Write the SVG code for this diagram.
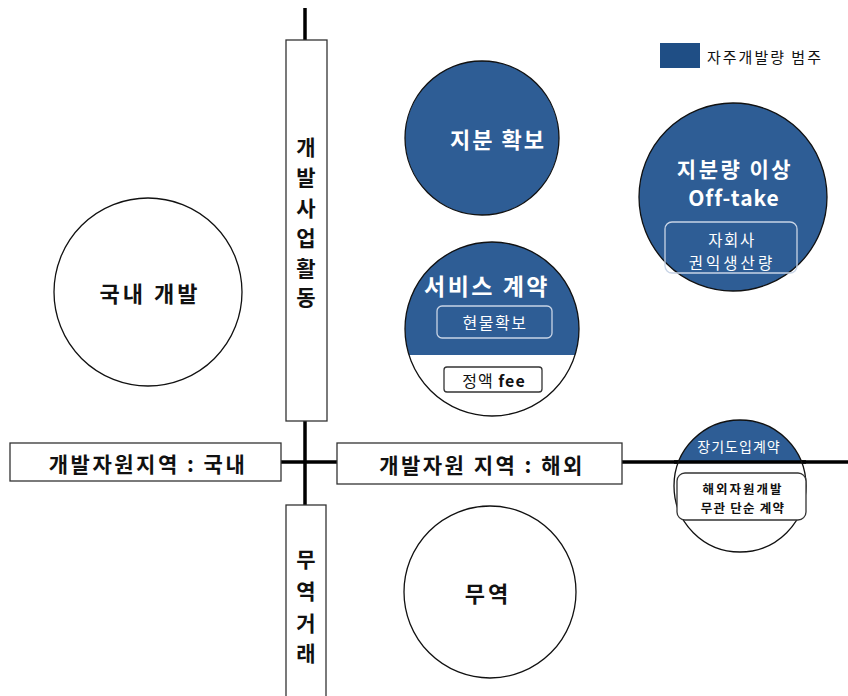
<svg xmlns="http://www.w3.org/2000/svg" width="848" height="696" viewBox="0 0 848 696">
<style>
text{font-family:"Noto Sans CJK KR","Noto Sans",sans-serif;text-anchor:middle;dominant-baseline:central}
.b{font-weight:bold}
.w{fill:#fff}
.k{fill:#111}
.circ{stroke:#111;stroke-width:1.3}
.blue{fill:#2E5D95}
.box{fill:#fff;stroke:#333;stroke-width:1.3}
.axis{stroke:#000;stroke-width:3.5;fill:none}
</style>
<defs>
<clipPath id="c1"><circle cx="492" cy="329" r="87"/></clipPath>
<clipPath id="c2"><circle cx="740" cy="486" r="66"/></clipPath>
</defs>
<rect width="848" height="696" fill="#fff"/>
<g id="connectors">
<line class="axis" x1="305" y1="8" x2="305" y2="696"/>
<line class="axis" x1="281" y1="462" x2="337" y2="462"/>
<line class="axis" x1="622" y1="462" x2="848" y2="462"/>
</g>
<g id="legend">
<rect x="660" y="43" width="40" height="25" fill="#1F4E85"/>
<text x="707" y="56" class="k" font-size="15" letter-spacing="2" style="text-anchor:start">자주개발량 범주</text>
</g>
<g id="axis-dev">
<rect class="box" x="286" y="40" width="41" height="381"/>
<text x="306" y="146" class="b k" font-size="21">개</text>
<text x="306" y="176" class="b k" font-size="21">발</text>
<text x="306" y="207" class="b k" font-size="21">사</text>
<text x="306" y="237" class="b k" font-size="21">업</text>
<text x="306" y="267" class="b k" font-size="21">활</text>
<text x="306" y="296" class="b k" font-size="21">동</text>
</g>
<g id="axis-trade">
<rect class="box" x="286" y="505" width="40" height="200"/>
<text x="306" y="558" class="b k" font-size="21">무</text>
<text x="306" y="590" class="b k" font-size="21">역</text>
<text x="306" y="622" class="b k" font-size="21">거</text>
<text x="306" y="652" class="b k" font-size="21">래</text>
</g>
<g id="region-domestic">
<rect class="box" x="10" y="443" width="271" height="38"/>
<text x="148" y="463" class="b k" font-size="21" letter-spacing="2.5">개발자원지역 : 국내</text>
</g>
<g id="region-overseas">
<rect class="box" x="337" y="443" width="285" height="41"/>
<text x="482" y="464" class="b k" font-size="21" letter-spacing="2.5">개발자원 지역 : 해외</text>
</g>
<g id="domestic-dev">
<circle class="circ" cx="148" cy="292" r="94" fill="#fff"/>
<text x="150" y="292" class="b k" font-size="22" letter-spacing="3">국내 개발</text>
</g>
<g id="equity">
<circle class="circ blue" cx="482" cy="138" r="77"/>
<text x="498" y="138" class="b w" font-size="22" letter-spacing="2">지분 확보</text>
</g>
<g id="service">
<circle cx="492" cy="329" r="87" fill="#fff"/>
<rect x="400" y="240" width="190" height="115" class="blue" clip-path="url(#c1)"/>
<circle class="circ" cx="492" cy="329" r="87" fill="none"/>
<text x="487" y="285" class="b w" font-size="23" letter-spacing="2.5">서비스 계약</text>
<rect x="437" y="306" width="115" height="32" rx="5" fill="none" stroke="#C8D4E6" stroke-width="1.3"/>
<text x="495" y="322" class="w" font-size="16" letter-spacing="1.5">현물확보</text>
<rect class="box" x="444" y="367" width="98" height="25" rx="3"/>
<text x="494" y="380" class="k" font-size="16" letter-spacing="1">정액 <tspan font-weight="bold">fee</tspan></text>
</g>
<g id="offtake">
<circle class="circ blue" cx="733" cy="197" r="94"/>
<text x="735" y="168" class="b w" font-size="21" letter-spacing="2.5">지분량 이상</text>
<text x="734" y="197" class="b w" font-size="21" letter-spacing="1">Off-take</text>
<rect x="665" y="222" width="132" height="51" rx="7" fill="none" stroke="#C8D4E6" stroke-width="1.3"/>
<text x="732" y="239" class="w" font-size="15.5" letter-spacing="1.5">자회사</text>
<text x="732" y="262" class="w" font-size="15.5" letter-spacing="3">권익생산량</text>
</g>
<g id="longterm">
<circle cx="740" cy="486" r="66" fill="#fff"/>
<rect x="670" y="415" width="140" height="47" class="blue" clip-path="url(#c2)"/>
<line x1="674" y1="462" x2="806" y2="462" stroke="#000" stroke-width="3.5"/>
<circle class="circ" cx="740" cy="486" r="66" fill="none"/>
<text x="739" y="446" class="w" font-size="14" letter-spacing="1">장기도입계약</text>
<rect class="box" x="677" y="473" width="129" height="47" rx="8"/>
<text x="743" y="488" class="b k" font-size="12.5" letter-spacing="2">해외자원개발</text>
<text x="743" y="507" class="b k" font-size="12.5" letter-spacing="1.2">무관 단순 계약</text>
</g>
<g id="trade">
<circle class="circ" cx="490" cy="592" r="86" fill="#fff"/>
<text x="488" y="592" class="b k" font-size="22" letter-spacing="3">무역</text>
</g>
</svg>
